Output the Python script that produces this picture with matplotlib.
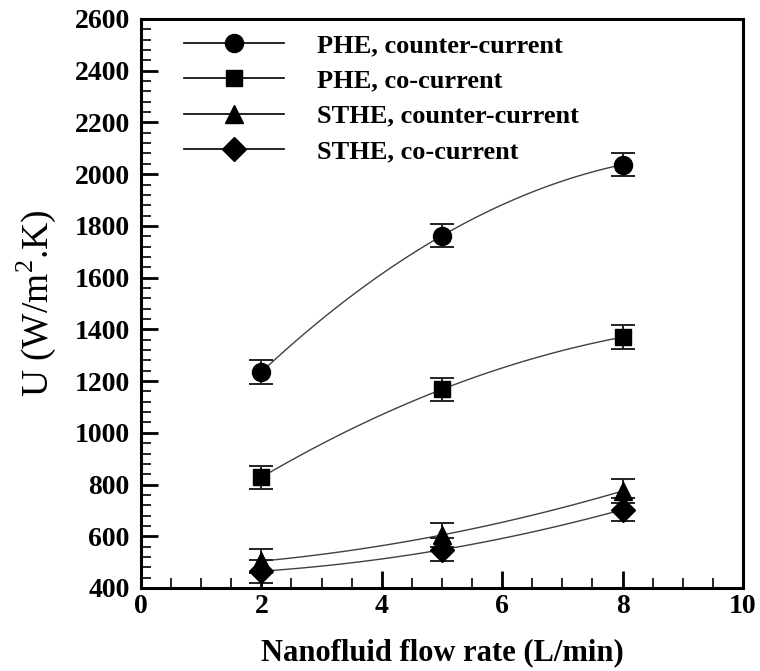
import numpy as np
import matplotlib
matplotlib.use('Agg')
import matplotlib.pyplot as plt
from matplotlib.lines import Line2D
from matplotlib.ticker import MultipleLocator

plt.rcParams['font.family'] = ['Liberation Serif', 'DejaVu Serif']
plt.rcParams['mathtext.fontset'] = 'custom'
plt.rcParams['mathtext.rm'] = 'Liberation Serif'

# data
flow_rate = [2, 5, 8]
phe_counter = [1235, 1762, 2037]
phe_co = [828, 1168, 1370]
sthe_counter = [504, 605, 775]
sthe_co = [465, 548, 703]
err = [45, 45, 45]

series_names = ['PHE, counter-current', 'PHE, co-current',
                'STHE, counter-current', 'STHE, co-current']
series_vals = [phe_counter, phe_co, sthe_counter, sthe_co]
markers = ['o', 's', '^', 'D']
msizes = [13, 12, 13, 12]

fig = plt.figure(figsize=(7.6, 6.71), dpi=100)
ax = fig.add_axes([0.1855, 0.1237, 0.7921, 0.848])

handles = []
for name, vals, mk, ms in zip(series_names, series_vals, markers, msizes):
    # smooth curve through the three points
    coef = np.polyfit(flow_rate, vals, 2)
    xs = np.linspace(flow_rate[0], flow_rate[-1], 100)
    ax.plot(xs, np.polyval(coef, xs), color='#404040', lw=1.0, zorder=2)
    ax.errorbar(flow_rate, vals, yerr=err, fmt=mk, color='black', ms=ms,
                ecolor='#222222', elinewidth=1.4, capsize=8.3, capthick=1.4,
                zorder=3)
    handles.append(Line2D([], [], color='black', lw=1.2, marker=mk, ms=ms))

ax.set_xlim(0, 10)
ax.set_ylim(400, 2600)
ax.xaxis.set_major_locator(MultipleLocator(2))
ax.xaxis.set_minor_locator(MultipleLocator(0.5))
ax.yaxis.set_major_locator(MultipleLocator(200))
ax.yaxis.set_minor_locator(MultipleLocator(40))

ax.tick_params(which='both', direction='in', top=False, right=False,
               width=2, labelsize=20)
ax.tick_params(axis='x', pad=4)
ax.tick_params(axis='y', pad=8)
ax.tick_params(which='major', length=12)
ax.tick_params(which='minor', length=7, width=1.2)
for lab in ax.get_xticklabels() + ax.get_yticklabels():
    lab.set_fontweight('bold')
for sp in ax.spines.values():
    sp.set_linewidth(2.2)

ax.set_xlabel('Nanofluid flow rate (L/min)', fontsize=22, fontweight='bold',
              labelpad=14)
ax.set_ylabel(r'U (W/m$^{2}$.K)', fontsize=27, labelpad=12)

ax.legend(handles, series_names, loc='upper left', frameon=False,
          bbox_to_anchor=(0.032, 1.016), handlelength=3.8, handletextpad=1.25,
          labelspacing=0.45, prop={'size': 19, 'weight': 'bold'})

fig.savefig('out.png', dpi=100)
